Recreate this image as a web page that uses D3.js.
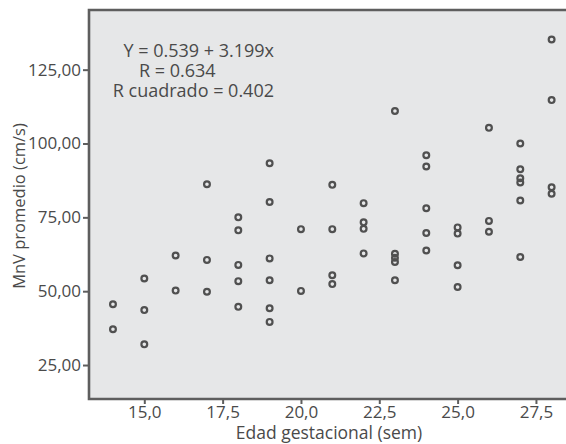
<!DOCTYPE html>
<html>
<head>
<meta charset="utf-8">
<script src="https://cdn.jsdelivr.net/npm/d3@7"></script>
<style>
  body { margin: 0; background: #fff; }
  svg { display: block; font-family: "Open Sans", sans-serif; }
</style>
</head>
<body>
<svg id="chart" width="566" height="444"></svg>
<script>
// edad gestacional (sem) vs MnV promedio (cm/s)
var edad = [14, 14, 15, 15, 15, 16, 16, 17, 17, 17,
  18, 18, 18, 18, 18, 19, 19, 19, 19, 19, 19, 20, 20,
  21, 21, 21, 21, 22, 22, 22, 22, 23, 23, 23, 23, 23,
  24, 24, 24, 24, 24, 25, 25, 25, 25, 26, 26, 26,
  27, 27, 27, 27, 27, 27, 28, 28, 28, 28];
var mnv = [45.6, 37.1, 54.3, 43.6, 32.0, 62.1, 50.2, 86.2, 60.6, 49.8,
  75.0, 70.6, 58.9, 53.4, 44.7, 93.3, 80.2, 61.1, 53.7, 44.2, 39.6, 71.0, 50.1,
  86.0, 71.0, 55.4, 52.4, 79.8, 73.3, 71.1, 62.8, 111.0, 62.7, 61.3, 59.9, 53.7,
  96.0, 92.2, 78.1, 69.7, 63.8, 71.6, 69.5, 58.8, 51.4, 105.3, 73.8, 70.1,
  100.0, 91.3, 88.2, 86.8, 80.7, 61.6, 135.2, 114.7, 85.2, 83.0];
var xTicks = [15, 17.5, 20, 22.5, 25, 27.5];
var yTicks = [25, 50, 75, 100, 125];
var notas = ["Y = 0.539 + 3.199x", "R = 0.634", "R cuadrado = 0.402"];

var svg = d3.select('#chart');
var textColor = '#4a4a4a';
var lineColor = '#5e5e5e';

var x = d3.scaleLinear().domain([13.235, 28.555]).range([89, 569]);
var y = d3.scaleLinear().domain([13.5, 145.2]).range([399, 10]);

var comma = f => v => d3.format(f)(v).replace('.', ',');

svg.append('rect')
    .attr('x', 89).attr('y', 10)
    .attr('width', 480).attr('height', 389)
    .attr('fill', '#e6e7e8');

// axes
var xAxis = svg.append('g')
    .attr('transform', 'translate(0,399)')
    .call(d3.axisBottom(x).tickValues(xTicks).tickFormat(comma('.1f')).tickSize(5).tickPadding(2));
var yAxis = svg.append('g')
    .attr('transform', 'translate(89,0)')
    .call(d3.axisLeft(y).tickValues(yTicks).tickFormat(comma('.2f')).tickSize(6).tickPadding(2));

[xAxis, yAxis].forEach(function (g) {
  g.select('.domain').remove();
  g.selectAll('line').attr('stroke', lineColor).attr('stroke-width', 2);
  g.selectAll('text').attr('fill', textColor).style('font-size', '17px')
    .style('font-family', '"Open Sans", sans-serif');
});

// frame
svg.append('path')
    .attr('d', 'M569,10H89V399H569')
    .attr('fill', 'none')
    .attr('stroke', lineColor)
    .attr('stroke-width', 2.6);

// points
svg.append('g')
    .selectAll('circle')
    .data(d3.zip(edad, mnv))
    .join('circle')
    .attr('cx', d => x(d[0]))
    .attr('cy', d => y(d[1]))
    .attr('r', 2.9)
    .attr('fill', 'none')
    .attr('stroke', '#505050')
    .attr('stroke-width', 2.2);

// regression note
var note = svg.append('g')
    .attr('fill', textColor)
    .style('font-size', '18px');
note.append('text').attr('x', 274).attr('y', 57).attr('text-anchor', 'end').text(notas[0]);
note.append('text').attr('x', 139).attr('y', 77).text(notas[1]);
note.append('text').attr('x', 274).attr('y', 97).attr('text-anchor', 'end').text(notas[2]);

// axis titles
svg.append('text')
    .attr('x', 329).attr('y', 439)
    .attr('text-anchor', 'middle')
    .attr('fill', textColor)
    .style('font-size', '17.5px')
    .text('Edad gestacional (sem)');

svg.append('text')
    .attr('transform', 'translate(25,206) rotate(-90)')
    .attr('text-anchor', 'middle')
    .attr('fill', textColor)
    .style('font-size', '16.5px')
    .text('MnV promedio (cm/s)');
</script>
</body>
</html>
